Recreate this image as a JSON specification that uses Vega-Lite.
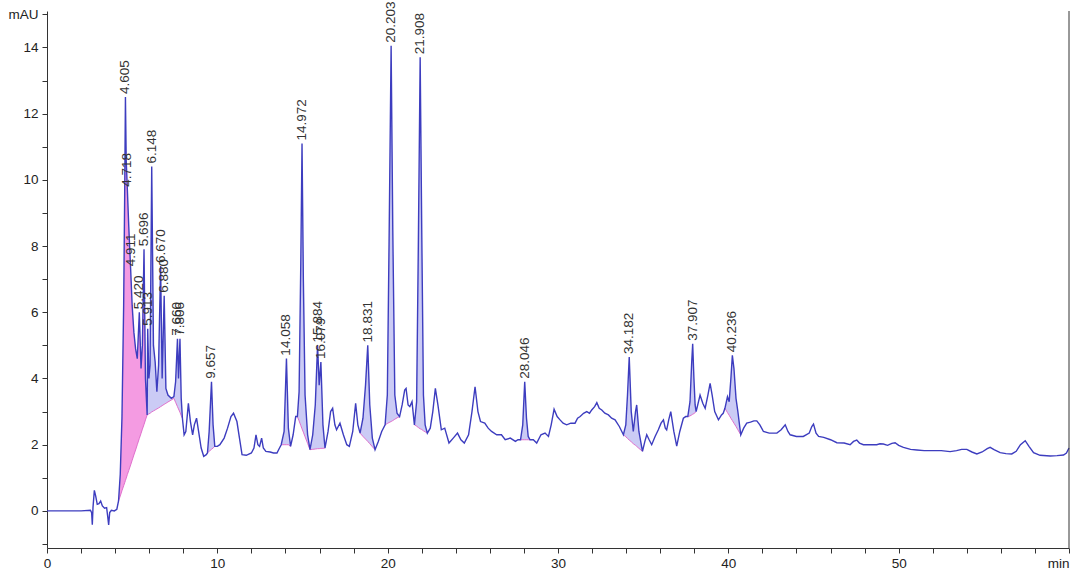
{
  "$schema": "https://vega.github.io/schema/vega-lite/v6.json",
  "width": 1022,
  "height": 537,
  "autosize": {"type": "none"},
  "padding": {"left": 47, "top": 11, "right": 5, "bottom": 30},
  "background": "white",
  "config": {
    "view": {"stroke": null},
    "font": "Liberation Sans",
    "axis": {"domainColor": "#333", "tickColor": "#333", "labelColor": "#222", "labelFont": "Liberation Sans", "labelFontSize": 13.5, "grid": false, "title": null, "labelOverlap": false},
    "axisX": {"values": [0,2,4,6,8,10,12,14,16,18,20,22,24,26,28,30,32,34,36,38,40,42,44,46,48,50,52,54,56,58,60], "labelExpr": "datum.value == 60 ? 'min' : (datum.value % 10 == 0 ? datum.label : '')", "labelAlign": {"condition": {"test": "datum.value == 60", "value": "right"}, "value": "center"}, "tickSize": 5, "labelPadding": 3, "labelOverlap": false, "labelBound": false, "labelFlush": false},
    "axisY": {"values": [-1,-0.5,0,0.5,1,1.5,2,2.5,3,3.5,4,4.5,5,5.5,6,6.5,7,7.5,8,8.5,9,9.5,10,10.5,11,11.5,12,12.5,13,13.5,14,14.5,15], "labelExpr": "datum.value == 15 ? 'mAU' : (datum.value % 2 == 0 ? datum.label : '')", "tickSize": 5, "labelPadding": 4, "labelOverlap": false, "labelBound": false}
  },
  "datasets": {
    "trace": [
      {"t":0,"v":0},{"t":1,"v":0},{"t":2,"v":0},{"t":2.55,"v":0.02},{"t":2.62,"v":-0.05},{"t":2.66,"v":-0.42},{"t":2.7,"v":0.1},{"t":2.78,"v":0.62},{"t":2.86,"v":0.45},{"t":2.95,"v":0.2},{"t":3.05,"v":0.22},{"t":3.15,"v":0.3},{"t":3.25,"v":0.15},{"t":3.38,"v":0.08},{"t":3.5,"v":0.1},{"t":3.56,"v":-0.15},{"t":3.62,"v":-0.42},{"t":3.68,"v":-0.05},{"t":3.78,"v":0.02},{"t":3.95,"v":0},{"t":4.1,"v":0.05},
      {"t":4.2,"v":0.3,"b":0.3,"pk":"a"},{"t":4.3,"v":1.1,"b":0.45,"pk":"a"},{"t":4.4,"v":2.8,"b":0.61,"pk":"a"},{"t":4.5,"v":6.2,"b":0.76,"pk":"a"},{"t":4.56,"v":9.5,"b":0.85,"pk":"a"},{"t":4.605,"v":12.5,"b":0.92,"pk":"a"},{"t":4.65,"v":10.6,"b":0.99,"pk":"a"},{"t":4.718,"v":9.7,"b":1.1,"pk":"a"},{"t":4.8,"v":8.6,"b":1.22,"pk":"a"},{"t":4.911,"v":7.3,"b":1.39,"pk":"a"},{"t":5.0,"v":6.2,"b":1.53,"pk":"a"},{"t":5.1,"v":5.4,"b":1.69,"pk":"a"},{"t":5.2,"v":4.9,"b":1.84,"pk":"a"},{"t":5.3,"v":4.6,"b":2.0,"pk":"a"},{"t":5.42,"v":6.0,"b":2.19,"pk":"a"},{"t":5.52,"v":4.3,"b":2.34,"pk":"a"},{"t":5.6,"v":5.0,"b":2.47,"pk":"a"},{"t":5.696,"v":7.9,"b":2.61,"pk":"a"},{"t":5.78,"v":4.0,"b":2.75,"pk":"a"},{"t":5.88,"v":2.9,"b":2.9,"pk":"a"},
      {"t":5.88,"v":2.9,"b":2.9,"pk":"b"},{"t":5.913,"v":5.5,"b":2.91,"pk":"b"},{"t":5.98,"v":4.0,"b":2.93,"pk":"b"},{"t":6.05,"v":4.4,"b":2.95,"pk":"b"},{"t":6.148,"v":10.4,"b":2.99,"pk":"b"},{"t":6.25,"v":5.0,"b":3.02,"pk":"b"},{"t":6.35,"v":4.5,"b":3.05,"pk":"b"},{"t":6.45,"v":3.6,"b":3.08,"pk":"b"},{"t":6.55,"v":4.4,"b":3.11,"pk":"b"},{"t":6.67,"v":7.4,"b":3.15,"pk":"b"},{"t":6.76,"v":4.0,"b":3.18,"pk":"b"},{"t":6.88,"v":6.5,"b":3.22,"pk":"b"},{"t":6.98,"v":3.7,"b":3.25,"pk":"b"},{"t":7.1,"v":3.5,"b":3.29,"pk":"b"},{"t":7.3,"v":3.4,"b":3.35,"pk":"b"},{"t":7.45,"v":3.45,"b":3.4,"pk":"b"},
      {"t":7.45,"v":3.45,"b":3.4,"pk":"c"},{"t":7.55,"v":3.9,"b":3.28,"pk":"c"},{"t":7.66,"v":5.2,"b":3.15,"pk":"c"},{"t":7.72,"v":4.0,"b":3.08,"pk":"c"},{"t":7.806,"v":5.2,"b":2.98,"pk":"c"},{"t":7.88,"v":3.4,"b":2.88,"pk":"c"},{"t":7.95,"v":2.8,"b":2.8,"pk":"c"},
      {"t":8.05,"v":2.3},{"t":8.15,"v":2.4},{"t":8.3,"v":3.25},{"t":8.42,"v":2.7},{"t":8.55,"v":2.3},{"t":8.65,"v":2.6},{"t":8.78,"v":2.8},{"t":8.9,"v":2.4},{"t":9.05,"v":1.9},{"t":9.2,"v":1.65},{"t":9.35,"v":1.7},
      {"t":9.42,"v":1.75,"b":1.75,"pk":"d"},{"t":9.52,"v":2.4,"b":1.8,"pk":"d"},{"t":9.657,"v":3.9,"b":1.86,"pk":"d"},{"t":9.75,"v":2.6,"b":1.9,"pk":"d"},{"t":9.85,"v":1.95,"b":1.95,"pk":"d"},
      {"t":10.0,"v":1.95},{"t":10.15,"v":2.0},{"t":10.4,"v":2.2},{"t":10.6,"v":2.5},{"t":10.8,"v":2.85},{"t":10.95,"v":2.95},{"t":11.15,"v":2.7},{"t":11.3,"v":2.2},{"t":11.45,"v":1.7},{"t":11.7,"v":1.68},{"t":12.0,"v":1.75},{"t":12.15,"v":1.9},{"t":12.27,"v":2.3},{"t":12.38,"v":2.0},{"t":12.48,"v":1.95},{"t":12.6,"v":2.2},{"t":12.7,"v":1.9},{"t":12.85,"v":1.8},{"t":13.1,"v":1.78},{"t":13.3,"v":1.75},{"t":13.5,"v":1.75},{"t":13.65,"v":1.9},
      {"t":13.75,"v":2.0,"b":2.0,"pk":"e"},{"t":13.92,"v":2.4,"b":2.0,"pk":"e"},{"t":14.058,"v":4.6,"b":2.0,"pk":"e"},{"t":14.17,"v":2.5,"b":2.0,"pk":"e"},{"t":14.3,"v":1.95,"b":1.95,"pk":"e"},
      {"t":14.45,"v":2.3},{"t":14.6,"v":2.85},
      {"t":14.7,"v":2.85,"b":2.85,"pk":"f"},{"t":14.8,"v":3.6,"b":2.72,"pk":"f"},{"t":14.9,"v":7.5,"b":2.58,"pk":"f"},{"t":14.972,"v":11.1,"b":2.48,"pk":"f"},{"t":15.05,"v":7.0,"b":2.38,"pk":"f"},{"t":15.15,"v":3.5,"b":2.24,"pk":"f"},{"t":15.3,"v":2.3,"b":2.04,"pk":"f"},{"t":15.44,"v":1.85,"b":1.85,"pk":"f"},
      {"t":15.44,"v":1.85,"b":1.85,"pk":"g"},{"t":15.6,"v":2.3,"b":1.86,"pk":"g"},{"t":15.75,"v":3.2,"b":1.87,"pk":"g"},{"t":15.884,"v":5.0,"b":1.88,"pk":"g"},{"t":15.98,"v":3.8,"b":1.88,"pk":"g"},{"t":16.079,"v":4.5,"b":1.89,"pk":"g"},{"t":16.2,"v":2.6,"b":1.89,"pk":"g"},{"t":16.32,"v":1.9,"b":1.9,"pk":"g"},
      {"t":16.5,"v":2.4},{"t":16.65,"v":3.0},{"t":16.77,"v":3.1},{"t":16.9,"v":2.6},{"t":17.0,"v":2.45},{"t":17.2,"v":2.65},{"t":17.4,"v":2.3},{"t":17.6,"v":2.0},{"t":17.75,"v":1.95},{"t":17.95,"v":2.4},{"t":18.12,"v":3.25},{"t":18.25,"v":2.6},
      {"t":18.38,"v":2.35,"b":2.35,"pk":"h"},{"t":18.55,"v":2.8,"b":2.25,"pk":"h"},{"t":18.7,"v":3.8,"b":2.17,"pk":"h"},{"t":18.831,"v":5.0,"b":2.1,"pk":"h"},{"t":18.95,"v":3.2,"b":2.03,"pk":"h"},{"t":19.1,"v":2.2,"b":1.94,"pk":"h"},{"t":19.26,"v":1.85,"b":1.85,"pk":"h"},
      {"t":19.45,"v":2.1},{"t":19.65,"v":2.4},
      {"t":19.85,"v":2.6,"b":2.6,"pk":"i"},{"t":19.98,"v":3.5,"b":2.64,"pk":"i"},{"t":20.08,"v":8.0,"b":2.67,"pk":"i"},{"t":20.203,"v":14.05,"b":2.7,"pk":"i"},{"t":20.3,"v":8.5,"b":2.73,"pk":"i"},{"t":20.42,"v":3.5,"b":2.77,"pk":"i"},{"t":20.55,"v":2.95,"b":2.81,"pk":"i"},{"t":20.7,"v":2.85,"b":2.85,"pk":"i"},
      {"t":20.85,"v":3.2},{"t":21.0,"v":3.65},{"t":21.08,"v":3.7},{"t":21.2,"v":3.2},{"t":21.3,"v":3.15},{"t":21.43,"v":3.3},
      {"t":21.57,"v":2.6,"b":2.6,"pk":"j"},{"t":21.7,"v":3.3,"b":2.56,"pk":"j"},{"t":21.8,"v":8.0,"b":2.52,"pk":"j"},{"t":21.908,"v":13.7,"b":2.48,"pk":"j"},{"t":22.0,"v":8.5,"b":2.46,"pk":"j"},{"t":22.1,"v":3.5,"b":2.42,"pk":"j"},{"t":22.2,"v":2.6,"b":2.39,"pk":"j"},{"t":22.33,"v":2.35,"b":2.35,"pk":"j"},
      {"t":22.5,"v":2.5},{"t":22.65,"v":3.0},{"t":22.8,"v":3.7},{"t":22.95,"v":3.2},{"t":23.15,"v":2.45},{"t":23.35,"v":2.5},{"t":23.6,"v":2.05},{"t":23.85,"v":2.2},{"t":24.1,"v":2.35},{"t":24.3,"v":2.15},{"t":24.5,"v":2.05},{"t":24.75,"v":2.3},{"t":24.95,"v":3.0},{"t":25.13,"v":3.75},{"t":25.3,"v":3.0},{"t":25.45,"v":2.7},{"t":25.7,"v":2.65},{"t":25.9,"v":2.5},{"t":26.1,"v":2.4},{"t":26.4,"v":2.3},{"t":26.68,"v":2.3},{"t":26.9,"v":2.15},{"t":27.2,"v":2.2},{"t":27.5,"v":2.1},{"t":27.65,"v":2.15},
      {"t":27.8,"v":2.15,"b":2.15,"pk":"k"},{"t":27.93,"v":2.6,"b":2.15,"pk":"k"},{"t":28.046,"v":3.9,"b":2.15,"pk":"k"},{"t":28.15,"v":2.8,"b":2.15,"pk":"k"},{"t":28.25,"v":2.25,"b":2.15,"pk":"k"},{"t":28.36,"v":2.15,"b":2.15,"pk":"k"},
      {"t":28.55,"v":2.15},{"t":28.75,"v":2.05},{"t":29.0,"v":2.3},{"t":29.24,"v":2.35},{"t":29.44,"v":2.25},{"t":29.6,"v":2.6},{"t":29.77,"v":3.07},{"t":29.95,"v":2.85},{"t":30.12,"v":2.75},{"t":30.3,"v":2.65},{"t":30.51,"v":2.6},{"t":30.75,"v":2.65},{"t":31.0,"v":2.65},{"t":31.15,"v":2.8},{"t":31.3,"v":2.85},{"t":31.5,"v":2.95},{"t":31.69,"v":3.0},{"t":31.85,"v":2.95},{"t":31.98,"v":3.05},{"t":32.15,"v":3.15},{"t":32.28,"v":3.27},{"t":32.42,"v":3.1},{"t":32.57,"v":3.05},{"t":32.75,"v":2.95},{"t":32.96,"v":2.9},{"t":33.15,"v":2.8},{"t":33.35,"v":2.75},{"t":33.6,"v":2.55},
      {"t":33.84,"v":2.3,"b":2.3,"pk":"l"},{"t":33.98,"v":2.6,"b":2.24,"pk":"l"},{"t":34.08,"v":3.5,"b":2.19,"pk":"l"},{"t":34.182,"v":4.65,"b":2.14,"pk":"l"},{"t":34.3,"v":3.0,"b":2.09,"pk":"l"},{"t":34.42,"v":2.4,"b":2.03,"pk":"l"},{"t":34.55,"v":3.0,"b":1.98,"pk":"l"},{"t":34.62,"v":3.2,"b":1.95,"pk":"l"},{"t":34.75,"v":2.4,"b":1.89,"pk":"l"},{"t":34.96,"v":1.8,"b":1.8,"pk":"l"},
      {"t":35.1,"v":2.1},{"t":35.21,"v":2.3},{"t":35.35,"v":2.15},{"t":35.5,"v":2.0},{"t":35.7,"v":2.25},{"t":35.89,"v":2.45},{"t":36.05,"v":2.65},{"t":36.19,"v":2.75},{"t":36.3,"v":2.5},{"t":36.38,"v":2.45},{"t":36.5,"v":2.75},{"t":36.62,"v":3.0},{"t":36.8,"v":2.4},{"t":36.97,"v":1.96},{"t":37.15,"v":2.4},{"t":37.36,"v":2.8},{"t":37.5,"v":2.85},
      {"t":37.62,"v":2.85,"b":2.85,"pk":"m"},{"t":37.75,"v":3.3,"b":2.87,"pk":"m"},{"t":37.85,"v":4.5,"b":2.9,"pk":"m"},{"t":37.907,"v":5.05,"b":2.92,"pk":"m"},{"t":37.98,"v":4.0,"b":2.94,"pk":"m"},{"t":38.05,"v":3.2,"b":2.97,"pk":"m"},{"t":38.11,"v":3.0,"b":3.0,"pk":"m"},
      {"t":38.34,"v":3.5},{"t":38.5,"v":3.25},{"t":38.64,"v":3.1},{"t":38.8,"v":3.5},{"t":38.93,"v":3.85},{"t":39.05,"v":3.5},{"t":39.2,"v":3.0},{"t":39.42,"v":2.75},{"t":39.6,"v":2.9},{"t":39.7,"v":2.95},
      {"t":39.8,"v":3.1,"b":3.1,"pk":"n"},{"t":39.95,"v":3.45,"b":2.97,"pk":"n"},{"t":40.05,"v":3.3,"b":2.89,"pk":"n"},{"t":40.15,"v":4.0,"b":2.8,"pk":"n"},{"t":40.236,"v":4.7,"b":2.73,"pk":"n"},{"t":40.33,"v":4.3,"b":2.65,"pk":"n"},{"t":40.45,"v":3.4,"b":2.55,"pk":"n"},{"t":40.56,"v":3.0,"b":2.45,"pk":"n"},{"t":40.73,"v":2.3,"b":2.3,"pk":"n"},
      {"t":40.9,"v":2.5},{"t":41.08,"v":2.65},{"t":41.3,"v":2.68},{"t":41.5,"v":2.72},{"t":41.67,"v":2.72},{"t":41.85,"v":2.6},{"t":42.06,"v":2.4},{"t":42.4,"v":2.35},{"t":42.85,"v":2.35},{"t":43.1,"v":2.45},{"t":43.34,"v":2.6},{"t":43.5,"v":2.4},{"t":43.63,"v":2.3},{"t":44.0,"v":2.25},{"t":44.4,"v":2.25},{"t":44.75,"v":2.35},{"t":44.9,"v":2.55},{"t":45.0,"v":2.62},{"t":45.15,"v":2.35},{"t":45.3,"v":2.25},{"t":45.6,"v":2.22},{"t":46.0,"v":2.15},{"t":46.37,"v":2.06},{"t":46.8,"v":2.05},{"t":47.15,"v":2.0},{"t":47.35,"v":2.1},{"t":47.54,"v":2.14},{"t":47.7,"v":2.05},{"t":47.93,"v":2.0},{"t":48.3,"v":2.0},{"t":48.71,"v":2.0},{"t":48.9,"v":2.03},{"t":49.1,"v":2.02},{"t":49.35,"v":1.98},{"t":49.6,"v":2.04},{"t":49.79,"v":2.06},{"t":50.0,"v":1.98},{"t":50.28,"v":1.92},{"t":50.7,"v":1.86},{"t":51.07,"v":1.84},{"t":51.5,"v":1.82},{"t":52.04,"v":1.82},{"t":52.5,"v":1.82},{"t":53.02,"v":1.79},{"t":53.4,"v":1.82},{"t":53.7,"v":1.86},{"t":54.0,"v":1.86},{"t":54.3,"v":1.78},{"t":54.59,"v":1.72},{"t":54.9,"v":1.78},{"t":55.2,"v":1.88},{"t":55.37,"v":1.92},{"t":55.6,"v":1.85},{"t":55.96,"v":1.76},{"t":56.3,"v":1.73},{"t":56.64,"v":1.72},{"t":56.9,"v":1.8},{"t":57.15,"v":2.0},{"t":57.43,"v":2.12},{"t":57.65,"v":1.95},{"t":57.92,"v":1.76},{"t":58.3,"v":1.68},{"t":58.9,"v":1.66},{"t":59.3,"v":1.67},{"t":59.68,"v":1.69},{"t":59.85,"v":1.75},{"t":60.0,"v":1.9}
    ],
    "peaks": [
      {"t":4.605,"v":12.5,"lab":"4.605"},{"t":4.718,"v":9.7,"lab":"4.718"},{"t":4.911,"v":7.3,"lab":"4.911"},{"t":5.42,"v":6.0,"lab":"5.420"},{"t":5.696,"v":7.9,"lab":"5.696"},{"t":5.913,"v":5.5,"lab":"5.913"},{"t":6.148,"v":10.4,"lab":"6.148"},{"t":6.67,"v":7.4,"lab":"6.670"},{"t":6.88,"v":6.5,"lab":"6.880"},{"t":7.66,"v":5.2,"lab":"7.660"},{"t":7.806,"v":5.2,"lab":"7.806"},{"t":9.657,"v":3.9,"lab":"9.657"},{"t":14.058,"v":4.6,"lab":"14.058"},{"t":14.972,"v":11.1,"lab":"14.972"},{"t":15.884,"v":5.0,"lab":"15.884"},{"t":16.079,"v":4.5,"lab":"16.079"},{"t":18.831,"v":5.0,"lab":"18.831"},{"t":20.203,"v":14.05,"lab":"20.203"},{"t":21.908,"v":13.7,"lab":"21.908"},{"t":28.046,"v":3.9,"lab":"28.046"},{"t":34.182,"v":4.65,"lab":"34.182"},{"t":37.907,"v":5.05,"lab":"37.907"},{"t":40.236,"v":4.7,"lab":"40.236"}
    ]
  },
  "layer": [
    {
      "data": {"name": "trace"},
      "transform": [{"filter": "isValid(datum.b)"}],
      "mark": {"type": "area", "opacity": 0.75},
      "encoding": {
        "x": {"field": "t", "type": "quantitative", "scale": {"domain": [0, 60], "nice": false}},
        "y": {"field": "v", "type": "quantitative", "scale": {"domain": [-1.12, 15.1], "nice": false, "zero": false}},
        "y2": {"field": "b"},
        "detail": {"field": "pk"},
        "color": {"condition": {"test": "datum.pk == 'a'", "value": "#f07ad8"}, "value": "#b9b9f2"}
      }
    },
    {
      "data": {"name": "trace"},
      "transform": [{"filter": "isValid(datum.b)"}],
      "mark": {"type": "line", "color": "#e070cc", "strokeWidth": 1},
      "encoding": {
        "x": {"field": "t", "type": "quantitative"},
        "y": {"field": "b", "type": "quantitative"},
        "detail": {"field": "pk"}
      }
    },
    {
      "data": {"name": "trace"},
      "mark": {"type": "line", "color": "#3d3dbf", "strokeWidth": 1.4},
      "encoding": {
        "x": {"field": "t", "type": "quantitative"},
        "y": {"field": "v", "type": "quantitative"}
      }
    },
    {
      "data": {"name": "peaks"},
      "mark": {"type": "text", "angle": 270, "align": "left", "baseline": "middle", "dx": 3, "fontSize": 13.5, "color": "#333", "font": "Liberation Sans"},
      "encoding": {
        "x": {"field": "t", "type": "quantitative"},
        "y": {"field": "v", "type": "quantitative"},
        "text": {"field": "lab"}
      }
    },
    {
      "data": {"values": [{"edge": 60}]},
      "mark": {"type": "rule", "color": "#333", "strokeWidth": 1},
      "encoding": {"x": {"field": "edge", "type": "quantitative"}}
    }
  ]
}
